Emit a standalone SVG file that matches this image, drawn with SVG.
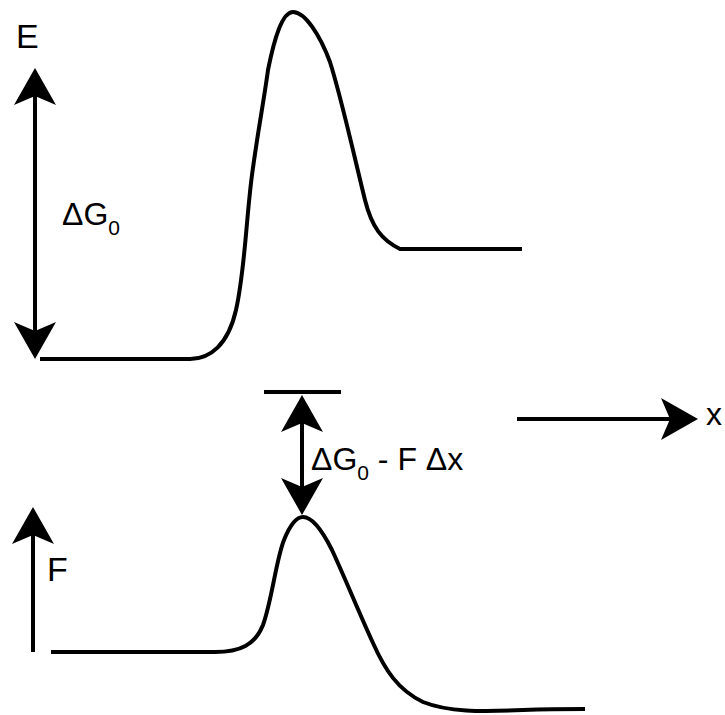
<svg xmlns="http://www.w3.org/2000/svg" width="725" height="715" viewBox="0 0 725 715">
<style>
.ln{fill:none;stroke:#000;stroke-width:4}
.cv{fill:none;stroke:#000;stroke-width:4;stroke-linejoin:round}
.t{font-family:"Liberation Sans",Arial,sans-serif;font-size:32px;fill:#000}
.s{font-size:21px}
</style>
<defs>
<marker id="ah" markerUnits="userSpaceOnUse" viewBox="-30 -22 42 44" markerWidth="42" markerHeight="44" refX="0" refY="0" orient="auto-start-reverse" overflow="visible">
<path d="M10,0 L-27,-21 L-18,0 L-27,21 Z" fill="#000"/>
</marker>
</defs>
<rect width="725" height="715" fill="#fff"/>
<g id="curve-top">
<path class="cv" d="M40,359 H190 C210,359 228,345 236,310 C245,270 246,220 252,175 C258,130 264,100 268,70 C274,40 282,12 293,12 C305,12 320,35 330,62 C342,100 355,160 365,200 C372,228 382,240 400,249 H522"/>
</g>
<g id="curve-bottom">
<path class="cv" d="M51,652 H215 C240,652 255,645 263,625 C272,600 276,560 284,540 C290,525 296,517 303,517 C312,517 322,530 332,550 C345,578 360,615 373,643 C385,670 398,690 423,702 C448,712 480,712 523,710 C550,709 570,709 585,709"/>
</g>
<g id="bar">
<line class="ln" x1="264" y1="392" x2="341" y2="392"/>
</g>
<g id="connectors">
<line class="ln" x1="35" y1="78" x2="35" y2="349" marker-start="url(#ah)" marker-end="url(#ah)"/>
<line class="ln" x1="302" y1="405" x2="302" y2="505" marker-start="url(#ah)" marker-end="url(#ah)"/>
<line class="ln" x1="517" y1="419" x2="688" y2="419" marker-end="url(#ah)"/>
<line class="ln" x1="33" y1="652" x2="33" y2="517" marker-end="url(#ah)"/>
</g>
<g id="labels">
<text class="t" x="16" y="48" style="font-size:34px">E</text>
<text class="t" x="62" y="225">ΔG<tspan class="s" dy="10">0</tspan></text>
<text class="t" x="311" y="470">ΔG<tspan class="s" dy="10">0</tspan><tspan dy="-10"> - F Δx</tspan></text>
<text class="t" x="47" y="581" style="font-size:34px">F</text>
<text class="t" x="706" y="425">x</text>
</g>
</svg>
